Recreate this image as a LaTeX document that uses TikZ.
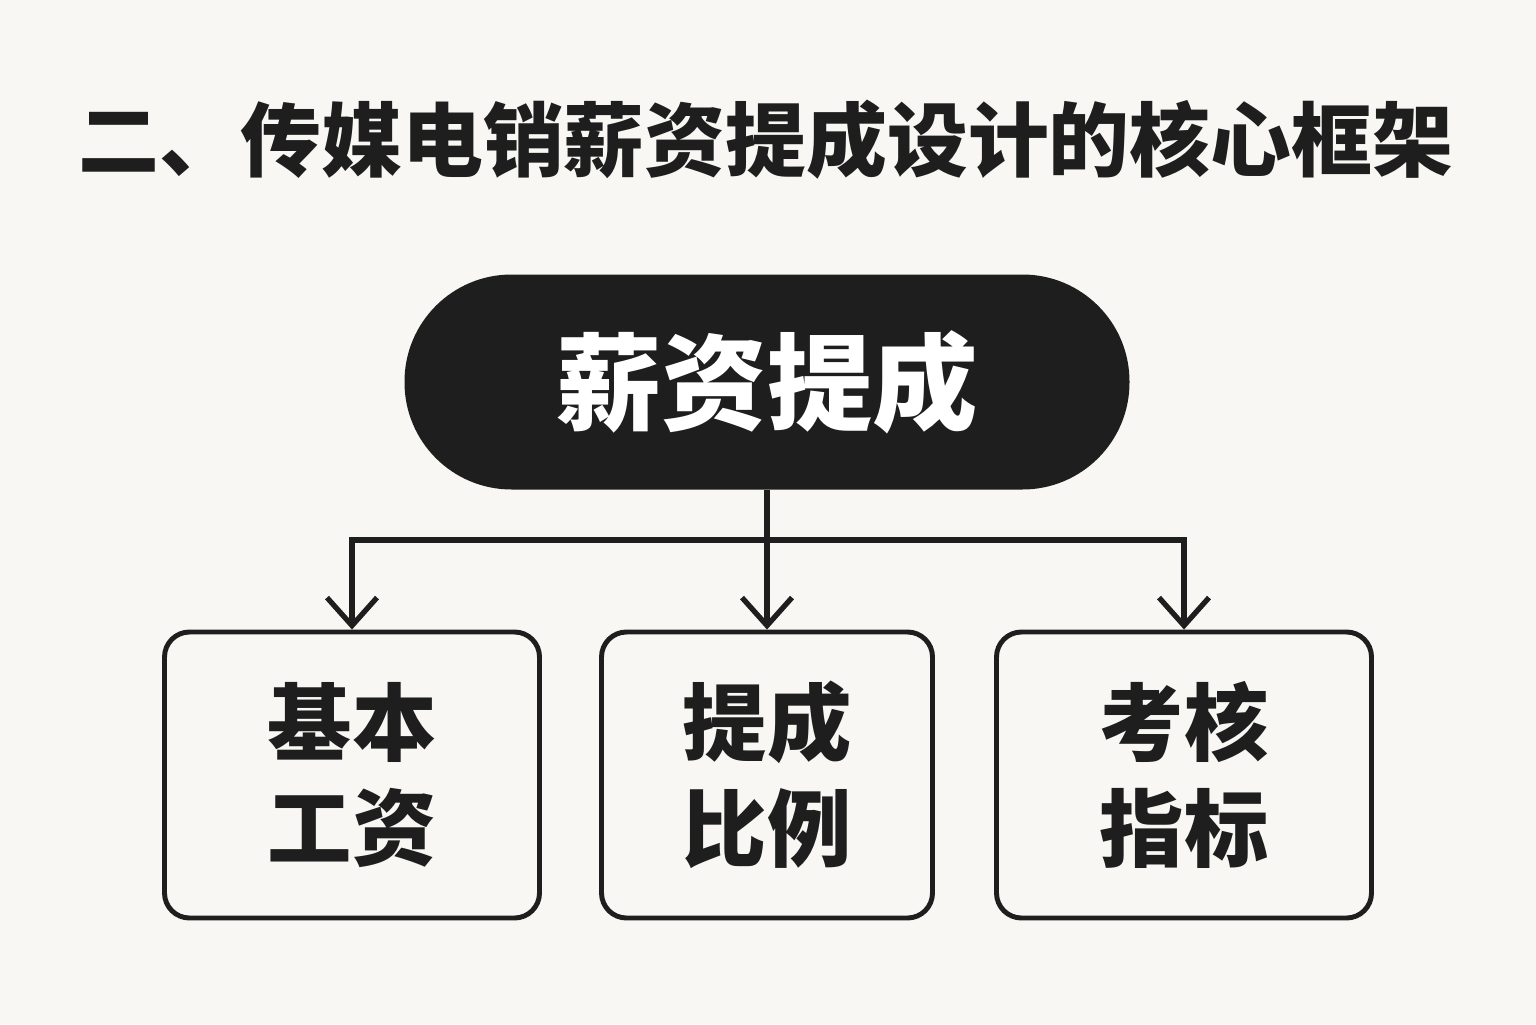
\documentclass[tikz,border=0pt]{standalone}
\usepackage{fontspec}
\newfontfamily\cjk{Noto Sans CJK SC}
\usetikzlibrary{arrows.meta}
\definecolor{bgpaper}{HTML}{F8F7F3}
\definecolor{inkdark}{HTML}{1E1E1E}
\begin{document}
\begin{tikzpicture}[
    box/.style = {rectangle,draw=inkdark,line width=1.4pt,rounded corners=0.25cm,minimum height=2.86cm,align=center,font=\cjk\bfseries\fontsize{24}{30}\selectfont,text=inkdark},
    link/.style = {draw=inkdark,line width=1.5pt},
    arr/.style = {link,-{Straight Barb[length=0.28cm,width=0.5cm,line width=1.5pt]}}]
\fill[bgpaper] (0,0) rectangle (15.36,10.24);
\useasboundingbox (0,0) rectangle (15.36,10.24);
\node[font=\cjk\bfseries\fontsize{23}{28}\selectfont,text=inkdark] (title) at (7.66,8.84) {二、传媒电销薪资提成设计的核心框架};
\node[rectangle,rounded corners=1.07cm,fill=inkdark,minimum width=7.25cm,minimum height=2.15cm,text=white,font=\cjk\bfseries\fontsize{30}{36}\selectfont] (root) at (7.67,6.42) {薪资提成};
\node[box,minimum width=3.75cm] (base) at (3.52,2.49) {基本\\工资};
\node[box,minimum width=3.31cm] (rate) at (7.67,2.49) {提成\\比例};
\node[box,minimum width=3.75cm] (kpi) at (11.84,2.49) {考核\\指标};
\coordinate (split) at (7.67,4.84);
\draw[link] (root.south) -- (split);
\draw[arr] (split) -| (base.north);
\draw[arr] (split) -- (rate.north);
\draw[arr] (split) -| (kpi.north);
\end{tikzpicture}
\end{document}
